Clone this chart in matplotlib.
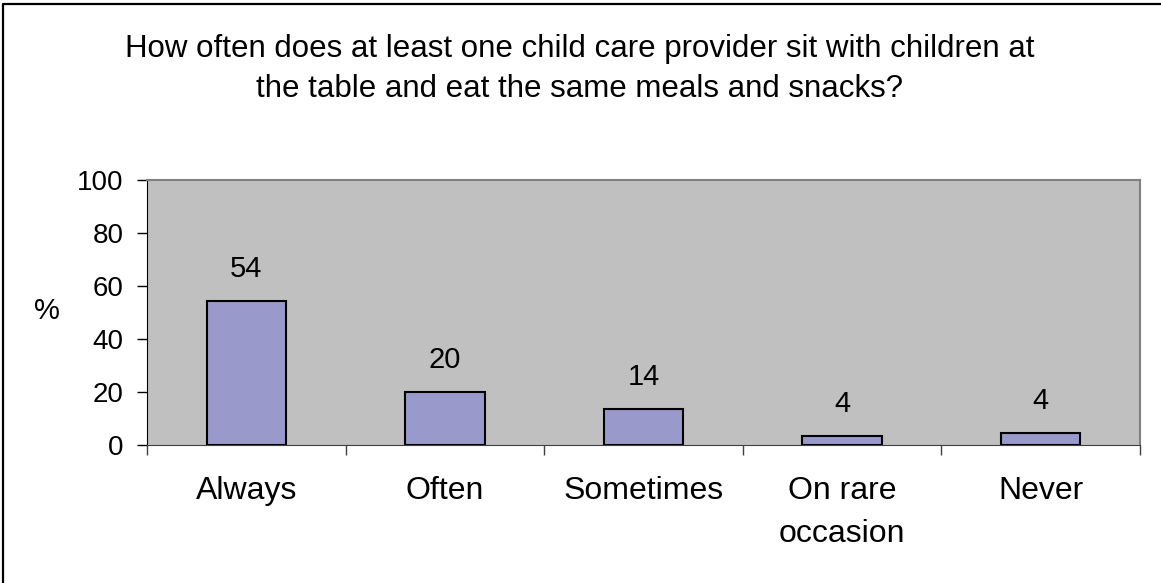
import numpy as np
import matplotlib.pyplot as plt
from matplotlib.lines import Line2D

plt.rcParams['font.family'] = ['Liberation Sans', 'DejaVu Sans']

# datos
categorias = ["Always", "Often", "Sometimes", "On rare\noccasion", "Never"]
valores = [54.2, 20.0, 13.6, 3.5, 4.6]
etiquetas = ["54", "20", "14", "4", "4"]
titulo_1 = "How often does at least one child care provider sit with children at"
titulo_2 = "the table and eat the same meals and snacks?"

W, H = 1161, 583
fig = plt.figure(figsize=(W / 100, H / 100), dpi=100)

# marco exterior (solo se ve arriba e izquierda)
fig.lines.append(Line2D([3 / W, 3 / W, 1.0], [0.0, 1 - 3.5 / H, 1 - 3.5 / H],
                        transform=fig.transFigure, color='black', linewidth=1.6))

# area del grafico en pixeles: x 147..1140, y 180..445
ax = fig.add_axes([147 / W, 1 - 445 / H, (1140 - 147) / W, (445 - 180) / H])
ax.set_facecolor('#C0C0C0')

x = np.arange(len(categorias))
ax.bar(x, valores, width=0.4, color='#9999CC', edgecolor='black', linewidth=1.5, zorder=3)

for xi, v, lab in zip(x, valores, etiquetas):
    ax.annotate(lab, (xi, v), xytext=(0, 13), textcoords='offset points',
                ha='center', va='bottom', fontsize=21)

ax.set_xlim(-0.5, len(categorias) - 0.5)
ax.set_ylim(0, 100)
ax.set_yticks(np.arange(0, 101, 20))
ax.tick_params(axis='y', direction='out', length=7, width=1, labelsize=20, pad=10)

# ticks del eje x en los limites de cada categoria
ax.set_xticks(np.arange(-0.5, len(categorias), 1.0))
ax.set_xticklabels([])
ax.set_xticks(x, minor=True)
ax.set_xticklabels(categorias, minor=True, fontsize=23, linespacing=1.58)
ax.tick_params(axis='x', which='major', direction='out', length=7, width=1, color='#404040')
ax.tick_params(axis='x', which='minor', length=0, pad=22)

for side in ['top', 'right']:
    ax.spines[side].set_color('#808080')
    ax.spines[side].set_linewidth(1.5)
ax.spines['left'].set_color('black')
ax.spines['bottom'].set_color('#404040')

fig.text(47 / W, 1 - 311 / H, '%', fontsize=21, ha='center', va='center')
fig.text(580 / W, 1 - 57 / H, titulo_1, fontsize=22.5, ha='center', va='baseline')
fig.text(580 / W, 1 - 97 / H, titulo_2, fontsize=22.5, ha='center', va='baseline')

fig.savefig('out.png', dpi=100)
